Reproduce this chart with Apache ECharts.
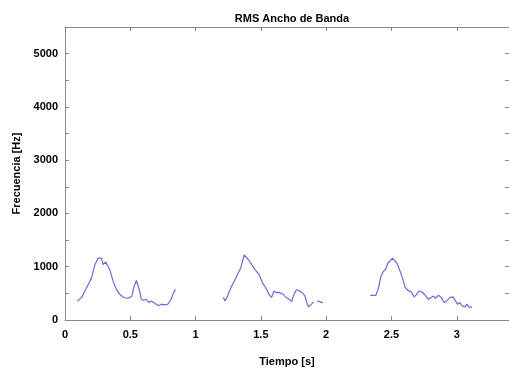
<!DOCTYPE html>
<html>
<head>
<meta charset="utf-8">
<title>RMS Ancho de Banda</title>
<script src="https://cdn.jsdelivr.net/npm/echarts@6/dist/echarts.min.js"></script>
<style>
  html, body { margin: 0; padding: 0; background: #fff; }
  #chart { width: 509px; height: 372px; }
</style>
</head>
<body>
<div id="chart"></div>
<script>
// tramos de la señal (tiempo en s, ancho de banda en Hz)
const seg1Time = [0.094, 0.127, 0.152, 0.178, 0.203, 0.229, 0.254, 0.267, 0.279, 0.292, 0.312, 0.325, 0.343, 0.368, 0.394, 0.419, 0.445, 0.470, 0.495, 0.513, 0.526, 0.546, 0.556, 0.572, 0.584, 0.602, 0.622, 0.643, 0.661, 0.678, 0.699, 0.719, 0.737, 0.762, 0.788, 0.813, 0.831, 0.846];
const seg1Vals = [358, 420, 544, 667, 791, 1038, 1162, 1195, 1162, 1039, 1089, 1069, 945, 729, 575, 482, 433, 408, 420, 451, 606, 742, 717, 544, 389, 371, 389, 328, 358, 328, 297, 266, 297, 284, 297, 389, 513, 575];

const seg2Time = [1.212, 1.227, 1.245, 1.270, 1.296, 1.321, 1.346, 1.359, 1.372, 1.384, 1.405, 1.430, 1.455, 1.486, 1.512, 1.537, 1.562, 1.582, 1.600, 1.618, 1.639, 1.664, 1.689, 1.715, 1.735, 1.753, 1.773, 1.791, 1.817, 1.837, 1.855, 1.867, 1.888, 1.903];
const seg2Vals = [420, 358, 451, 606, 729, 853, 976, 1100, 1224, 1211, 1131, 1038, 945, 853, 698, 606, 482, 420, 544, 513, 513, 494, 433, 389, 346, 482, 568, 556, 513, 451, 297, 247, 297, 340];

const seg3Time = [1.931, 1.956, 1.974];
const seg3Vals = [358, 340, 321];

const seg4Time = [2.337, 2.381, 2.401, 2.419, 2.439, 2.457, 2.472, 2.490, 2.508, 2.523, 2.541, 2.566, 2.584, 2.604, 2.625, 2.650, 2.675, 2.693, 2.711, 2.731, 2.757, 2.782, 2.803, 2.820, 2.838, 2.859, 2.878, 2.904, 2.922, 2.947, 2.973, 2.990, 3.006, 3.024, 3.041, 3.062, 3.079, 3.094, 3.117];
const seg4Vals = [463, 463, 606, 822, 915, 958, 1069, 1112, 1162, 1162, 1069, 915, 791, 618, 556, 531, 433, 482, 544, 531, 470, 389, 420, 451, 408, 463, 433, 328, 358, 420, 433, 358, 297, 328, 266, 247, 297, 235, 247];

const segments = [
  [seg1Time, seg1Vals],
  [seg2Time, seg2Vals],
  [seg3Time, seg3Vals],
  [seg4Time, seg4Vals]
];

const lineColor = '#6b6bd8';
const axisColor = '#888888';
const font = '"Liberation Sans", Arial, sans-serif';

const chart = echarts.init(document.getElementById('chart'));

const boxAxis = {
  axisLine: { show: true, onZero: false, lineStyle: { color: axisColor, width: 1 } },
  axisTick: { show: true, inside: true, length: 4, lineStyle: { color: axisColor } },
  splitLine: { show: false }
};

const option = {
  animation: false,
  backgroundColor: '#ffffff',
  title: {
    text: 'RMS Ancho de Banda',
    left: 287,
    top: 8,
    textAlign: 'center',
    textStyle: { fontFamily: font, fontSize: 11, fontWeight: 'bold', color: '#000' }
  },
  grid: { left: 65, right: -2, top: 27, bottom: 49 },
  xAxis: [
    Object.assign({}, boxAxis, {
      type: 'value',
      min: 0,
      max: 3.4,
      interval: 0.5,
      position: 'bottom',
      name: 'Tiempo [s]',
      nameLocation: 'middle',
      nameGap: 36,
      nameTextStyle: { fontFamily: font, fontSize: 11, fontWeight: 'bold', color: '#000' },
      axisLabel: {
        showMaxLabel: false,
        margin: 9,
        fontFamily: font, fontSize: 11, fontWeight: 'bold', color: '#000'
      }
    }),
    Object.assign({}, boxAxis, {
      type: 'value',
      min: 0,
      max: 3.4,
      interval: 0.5,
      position: 'top',
      axisLabel: { show: false }
    })
  ],
  yAxis: [
    Object.assign({}, boxAxis, {
      type: 'value',
      min: 0,
      max: 5500,
      interval: 500,
      position: 'left',
      name: 'Frecuencia [Hz]',
      nameLocation: 'middle',
      nameGap: 43,
      nameTextStyle: { fontFamily: font, fontSize: 11, fontWeight: 'bold', color: '#000' },
      axisLabel: {
        margin: 7,
        fontFamily: font, fontSize: 11, fontWeight: 'bold', color: '#000',
        formatter: v => (v % 1000 === 0 ? String(v) : '')
      }
    }),
    Object.assign({}, boxAxis, {
      type: 'value',
      min: 0,
      max: 5500,
      interval: 500,
      position: 'right',
      axisLabel: { show: false }
    })
  ],
  series: segments.map(([t, v]) => ({
    type: 'line',
    xAxisIndex: 0,
    yAxisIndex: 0,
    showSymbol: false,
    smooth: false,
    data: t.map((x, i) => [x, v[i]]),
    lineStyle: { color: lineColor, width: 1.2 }
  }))
};

chart.setOption(option);
</script>
</body>
</html>
